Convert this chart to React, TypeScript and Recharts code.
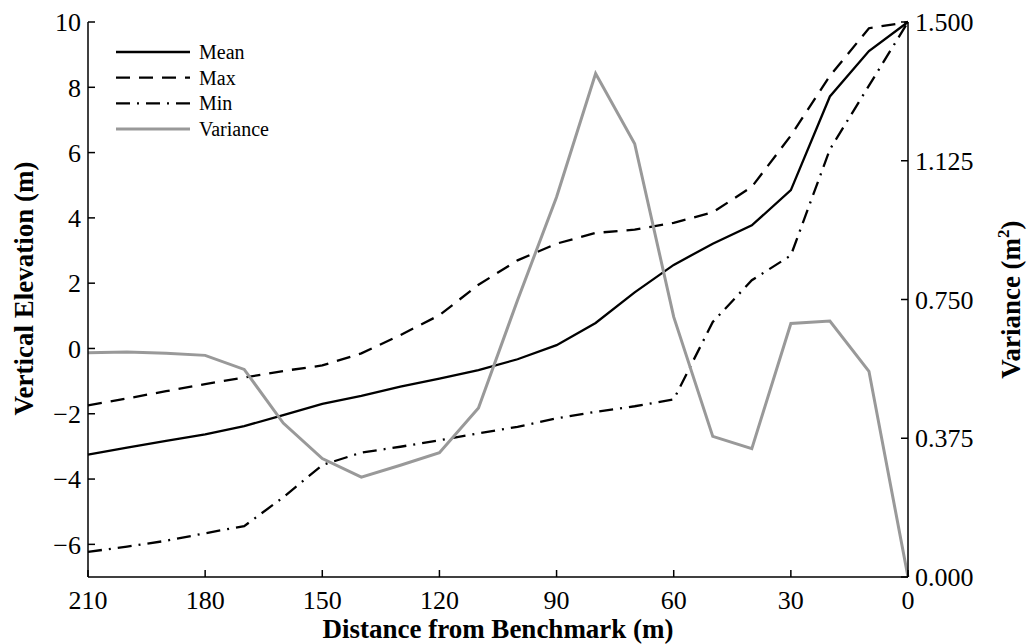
import { Label, Legend, Line, LineChart, XAxis, YAxis } from "recharts";

const FONT = '"Liberation Serif", "Times New Roman", Times, serif';

// Survey stations, metres from the benchmark (plotted right to left).
const distance = [210, 200, 190, 180, 170, 160, 150, 140, 130, 120, 110, 100, 90, 80, 70, 60, 50, 40, 30, 20, 10, 0];

// Vertical elevation (m) at each station.
const meanElevation = [-3.25, -3.04, -2.83, -2.63, -2.38, -2.04, -1.7, -1.45, -1.17, -0.92, -0.66, -0.33, 0.1, 0.78, 1.72, 2.56, 3.21, 3.77, 4.85, 7.72, 9.11, 10.0];
const maxElevation = [-1.74, -1.53, -1.31, -1.09, -0.89, -0.69, -0.52, -0.15, 0.41, 1.02, 1.95, 2.7, 3.21, 3.54, 3.64, 3.85, 4.17, 4.95, 6.52, 8.35, 9.81, 10.0];
const minElevation = [-6.23, -6.07, -5.89, -5.66, -5.44, -4.56, -3.57, -3.19, -3.01, -2.81, -2.6, -2.4, -2.14, -1.94, -1.77, -1.56, 0.81, 2.09, 2.85, 6.1, 8.05, 10.0];

// Elevation variance (m^2) at each station.
const variance = [0.606, 0.608, 0.605, 0.599, 0.561, 0.416, 0.32, 0.27, 0.302, 0.336, 0.457, 0.748, 1.027, 1.361, 1.171, 0.703, 0.38, 0.347, 0.685, 0.692, 0.556, 0.0];

const distanceTicks = [210, 180, 150, 120, 90, 60, 30, 0];
const elevationTicks = [-6, -4, -2, 0, 2, 4, 6, 8, 10];
const varianceTicks = [0, 0.375, 0.75, 1.125, 1.5];

const rows = distance.map((d, i) => ({
  distance: d,
  mean: meanElevation[i],
  max: maxElevation[i],
  min: minElevation[i],
  variance: variance[i],
}));

const SERIES = [
  { key: "mean", name: "Mean", axis: "elev", color: "#000000", width: 2.3, dash: undefined as string | undefined },
  { key: "max", name: "Max", axis: "elev", color: "#000000", width: 2.3, dash: "14 9" },
  { key: "min", name: "Min", axis: "elev", color: "#000000", width: 2.3, dash: "14 7 2 7" },
  { key: "variance", name: "Variance", axis: "var", color: "#999999", width: 3, dash: undefined },
];

const tickStyle = { fill: "#000", fontSize: 26, fontFamily: FONT };
const axisStroke = { stroke: "#000", strokeWidth: 1.5 };

// typographic minus for negative tick values
const withMinus = (v: number) => String(v).replace("-", "\u2212");

function LegendKey() {
  return (
    <svg width={200} height={110} style={{ display: "block" }}>
      {SERIES.map((s, i) => {
        const y = 12 + i * 25.7;
        return (
          <g key={s.key}>
            <line x1={6} x2={80} y1={y} y2={y} stroke={s.color} strokeWidth={s.width} strokeDasharray={s.dash} />
            <text x={89} y={y + 7} fontFamily={FONT} fontSize={20} fill="#000">
              {s.name}
            </text>
          </g>
        );
      })}
    </svg>
  );
}

function LeftTitle(props: any) {
  const vb = props.viewBox || {};
  const cy = vb.y + vb.height / 2 - 11;
  const x = 33;
  return (
    <text x={x} y={cy} transform={`rotate(-90, ${x}, ${cy})`} textAnchor="middle" fontFamily={FONT} fontWeight="bold" fontSize={27} fill="#000">
      Vertical Elevation (m)
    </text>
  );
}

function RightTitle(props: any) {
  const vb = props.viewBox || {};
  const cy = vb.y + vb.height / 2;
  const x = 1020;
  return (
    <text x={x} y={cy} transform={`rotate(-90, ${x}, ${cy})`} textAnchor="middle" fontFamily={FONT} fontWeight="bold" fontSize={27} fill="#000">
      Variance (m
      <tspan dy={-11} fontSize={17}>2</tspan>
      <tspan dy={11}>)</tspan>
    </text>
  );
}

function BottomTitle(props: any) {
  const vb = props.viewBox || {};
  const cx = vb.x + vb.width / 2;
  return (
    <text x={cx} y={638} textAnchor="middle" fontFamily={FONT} fontWeight="bold" fontSize={27} fill="#000">
      Distance from Benchmark (m)
    </text>
  );
}

export default function App() {
  return (
    <div style={{ position: "absolute", left: 0, top: 0, width: 1027, height: 644, background: "#fff", fontFamily: FONT }}>
      <LineChart width={1027} height={644} data={rows} margin={{ top: 22, right: 0, bottom: 0, left: 0 }} style={{ fontFamily: FONT }}>
        <XAxis
          dataKey="distance"
          type="number"
          domain={[0, 210]}
          reversed
          ticks={distanceTicks}
          interval={0}
          height={67}
          tickSize={-7}
          tickMargin={21}
          tick={tickStyle}
          axisLine={axisStroke}
          tickLine={axisStroke}
        >
          <Label content={<BottomTitle />} />
        </XAxis>
        <YAxis
          yAxisId="elev"
          domain={[-7, 10]}
          ticks={elevationTicks}
          interval={0}
          width={88}
          tickSize={-7}
          tickMargin={14}
          tickFormatter={withMinus}
          tick={tickStyle}
          axisLine={axisStroke}
          tickLine={axisStroke}
        >
          <Label content={<LeftTitle />} />
        </YAxis>
        <YAxis
          yAxisId="var"
          orientation="right"
          domain={[0, 1.5]}
          ticks={varianceTicks}
          interval={0}
          width={119}
          tickSize={-7}
          tickMargin={14}
          tickFormatter={(v: number) => v.toFixed(3)}
          tick={tickStyle}
          axisLine={axisStroke}
          tickLine={axisStroke}
        >
          <Label content={<RightTitle />} />
        </YAxis>
        <Legend
          layout="vertical"
          align="center"
          verticalAlign="middle"
          wrapperStyle={{ left: 110, top: 40, width: 200, height: 110 }}
          content={() => <LegendKey />}
        />
        {SERIES.map((s) => (
          <Line
            key={s.key}
            yAxisId={s.axis}
            type="linear"
            dataKey={s.key}
            name={s.name}
            stroke={s.color}
            strokeWidth={s.width}
            strokeDasharray={s.dash}
            dot={false}
            activeDot={false}
            isAnimationActive={false}
          />
        ))}
      </LineChart>
    </div>
  );
}
